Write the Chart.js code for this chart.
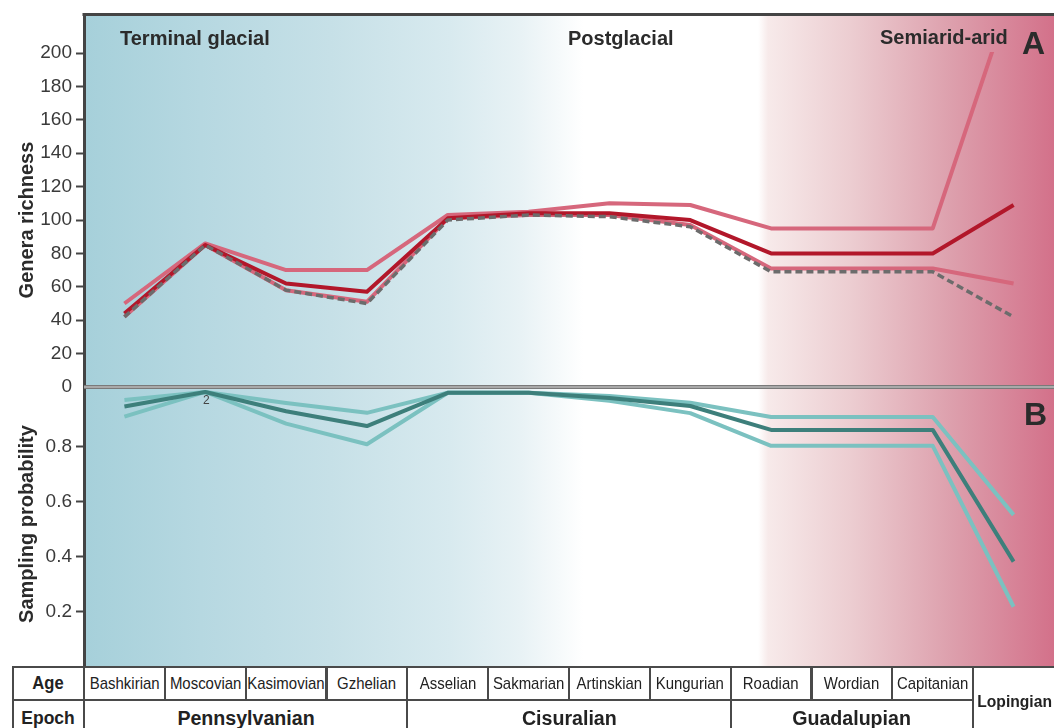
<!DOCTYPE html>
<html>
<head>
<meta charset="utf-8">
<script src="https://cdn.jsdelivr.net/npm/chart.js@4/dist/chart.umd.min.js"></script>
<style>
html,body{margin:0;padding:0;background:#fff;}
#wrap{position:relative;width:1054px;height:728px;overflow:hidden;background:#fff;
  font-family:"Liberation Sans Narrow","Arial Narrow","Liberation Sans",Arial,sans-serif;color:#2b2b2b;}
#c{position:absolute;left:0;top:0;}
.lbl{position:absolute;white-space:nowrap;font-weight:bold;}
.cell{position:absolute;box-sizing:border-box;border:2px solid #4a4a4a;display:flex;align-items:center;justify-content:center;white-space:nowrap;background:#fff;color:#222;}
.cell span{display:inline-block;}
</style>
</head>
<body>
<div id="wrap">
  <canvas id="c" width="1054" height="668"></canvas>
  <div class="lbl" style="left:120px;top:26px;font-size:20px;line-height:24px;">Terminal glacial</div>
  <div class="lbl" style="left:568px;top:26px;font-size:20px;line-height:24px;">Postglacial</div>
  <div class="lbl" style="left:880px;top:25px;font-size:20px;line-height:24px;">Semiarid-arid</div>
  <div class="lbl" style="left:1022px;top:25px;font-size:32px;line-height:36px;font-family:'Liberation Sans',Arial,sans-serif;">A</div>
  <div class="lbl" style="left:1024px;top:396px;font-size:32px;line-height:36px;font-family:'Liberation Sans',Arial,sans-serif;">B</div>
  <div class="lbl" style="left:203px;top:393px;font-size:12px;line-height:14px;font-weight:normal;color:#444;">2</div>
  <div id="table"></div>
</div>
<script>
// ---- data ----
const ages = ["Bashkirian","Moscovian","Kasimovian","Gzhelian","Asselian","Sakmarian","Artinskian","Kungurian","Roadian","Wordian","Capitanian","Lopingian"];
const epochOfAge = ["Pennsylvanian","Pennsylvanian","Pennsylvanian","Pennsylvanian","Cisuralian","Cisuralian","Cisuralian","Cisuralian","Guadalupian","Guadalupian","Guadalupian","Lopingian"];

const richnessMean  = [44, 85, 62, 57, 101, 104, 104, 100, 80, 80, 80, 109];
const richnessUpper = [50, 86, 70, 70, 103, 105, 110, 109, 95, 95, 95, 239];
const richnessLower = [42, 85, 58, 51, 101, 103, 103, 97, 71, 71, 71, 62];
const rangeThrough  = [42, 85, 58, 50, 100, 103, 102, 96, 69, 69, 69, 42];

const probMean  = [0.947, 1.0, 0.93, 0.876, 0.997, 0.997, 0.978, 0.949, 0.862, 0.862, 0.862, 0.383];
const probUpper = [0.971, 1.0, 0.96, 0.924, 0.997, 0.997, 0.985, 0.961, 0.909, 0.909, 0.909, 0.553];
const probLower = [0.910, 1.0, 0.885, 0.810, 0.997, 0.997, 0.968, 0.923, 0.804, 0.804, 0.804, 0.219];

const richnessTicks = [0, 20, 40, 60, 80, 100, 120, 140, 160, 180, 200];
const probTicks = [0.2, 0.4, 0.6, 0.8];

// ---- styles ----
const FONT = '"Liberation Sans Narrow","Arial Narrow","Liberation Sans",Arial,sans-serif';
const PINK = '#d6677c', RED = '#b2172a', GREY = '#6c6c6c', TEAL_L = '#7bc1c0', TEAL_D = '#3d7f7b';

const bgPlugin = {
  id: 'bgPlugin',
  beforeDraw(chart) {
    const {ctx, chartArea: a} = chart;
    const g = ctx.createLinearGradient(a.left, 0, a.right, 0);
    [[0,'#a6d0da'],[0.12,'#b6d8e1'],[0.254,'#c6e0e7'],[0.377,'#d8eaef'],[0.45,'#e8f2f5'],
     [0.49,'#f6fafb'],[0.515,'#ffffff'],[0.695,'#ffffff'],[0.705,'#f7eaea'],[0.79,'#eccdd1'],
     [0.893,'#dda0ad'],[1,'#d3718a']].forEach(s => g.addColorStop(s[0], s[1]));
    ctx.save();
    ctx.fillStyle = g;
    ctx.fillRect(a.left, a.top, a.right - a.left, a.bottom - a.top);
    ctx.restore();
  },
  afterDraw(chart) {
    const {ctx, chartArea: a} = chart;
    const yA = chart.scales.yA;
    const yB = chart.scales.yB;
    ctx.save();
    // divider between panels
    ctx.fillStyle = '#7a7a7a';
    ctx.fillRect(a.left, yA.bottom - 2, a.right - a.left, 4);
    ctx.fillStyle = '#d8d8d8';
    ctx.fillRect(a.left, yA.bottom - 0.5, a.right - a.left, 1);
    // top frame
    ctx.fillStyle = '#444';
    ctx.fillRect(a.left - 1.5, a.top - 1, a.right - a.left + 2, 3);
    // axis titles
    ctx.fillStyle = '#2b2b2b';
    ctx.font = 'bold 20px ' + FONT;
    ctx.textAlign = 'center';
    ctx.textBaseline = 'middle';
    ctx.translate(27, yA.getPixelForValue(100));
    ctx.rotate(-Math.PI / 2);
    ctx.fillText('Genera richness', 0, 0);
    ctx.restore();
    ctx.save();
    ctx.fillStyle = '#2b2b2b';
    ctx.font = 'bold 20px ' + FONT;
    ctx.textAlign = 'center';
    ctx.textBaseline = 'middle';
    ctx.translate(27, (yB.top + yB.bottom) / 2 - 3);
    ctx.rotate(-Math.PI / 2);
    ctx.fillText('Sampling probability', 0, 0);
    ctx.restore();
  }
};

function line(label, data, axis, color, width, dash, extra) {
  return Object.assign({
    label, data, yAxisID: axis, borderColor: color, backgroundColor: color,
    borderWidth: width, borderDash: dash || [], pointRadius: 0, pointHoverRadius: 0,
    tension: 0, fill: false, borderJoinStyle: 'round', borderCapStyle: 'butt'
  }, extra || {});
}

function yScale(min, max, ticks, weight, stackWeight, fmt) {
  return {
    type: 'linear', position: 'left', stack: 'panels', stackWeight, weight,
    min, max,
    afterBuildTicks: s => { s.ticks = ticks.map(v => ({value: v})); },
    afterFit: s => { s.width = 84; s.paddingTop = 0; s.paddingBottom = 0; },
    border: {display: true, color: '#444', width: 3},
    grid: {drawOnChartArea: false, drawTicks: true, tickLength: 8, tickWidth: 2,
           tickColor: c => (c.tick && c.tick.value === 0) ? 'rgba(0,0,0,0)' : '#444'},
    ticks: {color: '#3a3a3a', padding: 4, autoSkip: false, font: {family: FONT, size: 19},
            callback: fmt}
  };
}

const chart = new Chart(document.getElementById('c'), {
  type: 'line',
  data: {
    labels: ages,
    datasets: [
      line('Range-through', rangeThrough, 'yA', GREY, 3.5, [7, 4]),
      line('Genera richness', richnessMean, 'yA', RED, 4),
      line('Richness lower', richnessLower, 'yA', PINK, 4),
      line('Richness upper', richnessUpper, 'yA', PINK, 4, null, {clip: {left: 0, top: -38, right: 0, bottom: 0}}),
      line('Sampling probability', probMean, 'yB', TEAL_D, 4),
      line('Probability lower', probLower, 'yB', TEAL_L, 4),
      line('Probability upper', probUpper, 'yB', TEAL_L, 4)
    ]
  },
  options: {
    responsive: false,
    animation: false,
    devicePixelRatio: 1,
    layout: {padding: {top: 14, right: 0, bottom: 1, left: 0}, autoPadding: false},
    plugins: {legend: {display: false}, tooltip: {enabled: false}},
    events: [],
    scales: {
      x: {type: 'category', offset: true, display: false},
      yB: yScale(0, 1.018, probTicks, 0, 280, v => v.toFixed(1)),
      yA: yScale(0, 223.4, richnessTicks, 1, 373, v => String(v))
    }
  },
  plugins: [bgPlugin]
});

// ---- stratigraphic table (HTML text) ----
(function buildTable() {
  const t = document.getElementById('table');
  const xs = chart.scales.x;
  const w = (xs.right - xs.left) / ages.length;
  const top = 667, rowH = 33, row2H = 36;
  const add = (x0, x1, y0, y1, text, css, sx) => {
    const d = document.createElement('div');
    d.className = 'cell';
    d.style.left = (x0 - 1) + 'px';
    d.style.top = (y0 - 1) + 'px';
    d.style.width = (x1 - x0 + 2) + 'px';
    d.style.height = (y1 - y0 + 2) + 'px';
    d.style.cssText += css;
    const s = document.createElement('span');
    s.textContent = text;
    if (sx) s.style.transform = 'scaleX(' + sx + ')';
    d.appendChild(s);
    t.appendChild(d);
  };
  add(13, xs.left, top, top + rowH, 'Age', 'font-weight:bold;font-size:18px;', 0.92);
  add(13, xs.left, top + rowH, top + rowH + row2H, 'Epoch', 'font-weight:bold;font-size:19px;', 0.92);
  let i = 0;
  while (i < ages.length) {
    const left = xs.getPixelForValue(i) - w / 2;
    if (ages[i] === epochOfAge[i]) {
      add(left, left + w + 2, top, top + rowH + row2H, ages[i], 'font-weight:bold;font-size:17px;', 0.92);
      i++; continue;
    }
    let j = i;
    while (j < ages.length && epochOfAge[j] === epochOfAge[i] && ages[j] !== epochOfAge[j]) {
      const l = xs.getPixelForValue(j) - w / 2;
      add(l, l + w, top, top + rowH, ages[j], 'font-size:17px;', 0.88);
      j++;
    }
    const right = xs.getPixelForValue(j - 1) + w / 2;
    add(left, right, top + rowH, top + rowH + row2H, epochOfAge[i], 'font-weight:bold;font-size:20px;', 0.98);
    i = j;
  }
})();
</script>
</body>
</html>
